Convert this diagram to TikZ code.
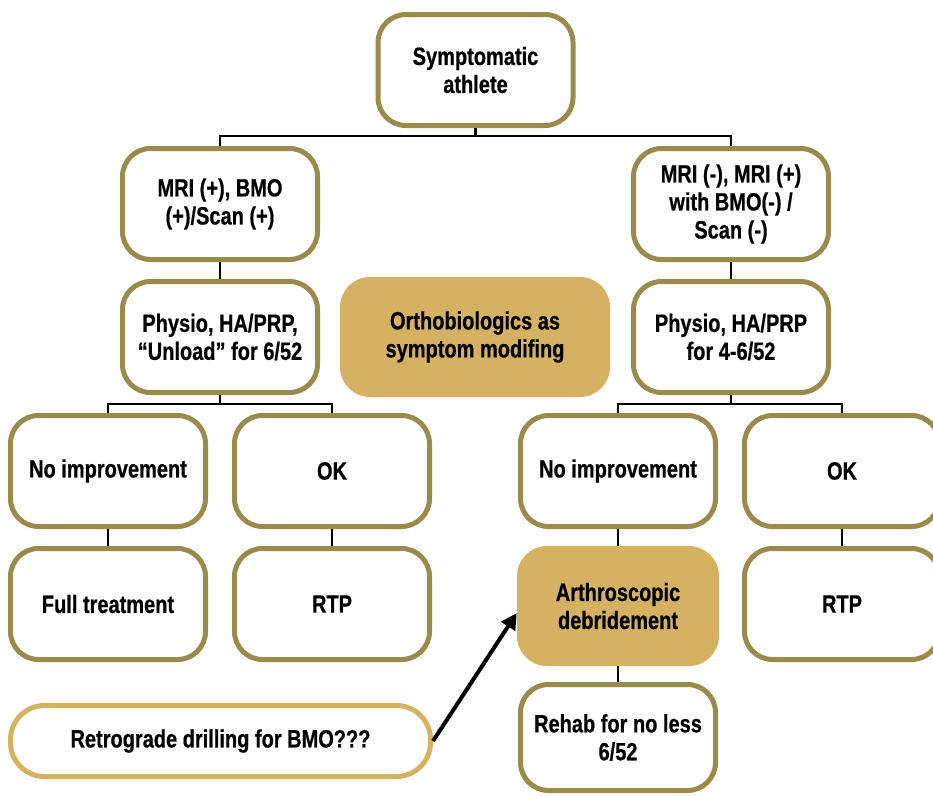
\documentclass[tikz,border=0pt]{standalone}
\usepackage{fontspec}
\setmainfont{Liberation Sans}[FakeStretch=0.8, BoldFeatures={FakeBold=0.6}]
\usetikzlibrary{arrows.meta}
\definecolor{olive}{HTML}{9A8A4B}
\definecolor{gold}{HTML}{D4B262}
\begin{document}
\begin{tikzpicture}[x=1pt,y=-1pt,
  box/.style={draw=olive, line width=5pt, fill=white, rounded corners=28pt,
    minimum width=195pt, minimum height=111pt, align=center, inner sep=2pt,
    font=\fontsize{25}{28}\selectfont\bfseries},
  goldbox/.style={fill=gold, rounded corners=30pt, align=center, inner sep=2pt,
    font=\fontsize{25}{28}\selectfont\bfseries},
  conn/.style={draw=black, line width=2.5pt}]
\useasboundingbox (0,0) rectangle (933,796);
\node[box] (top) at (475.5,70) {Symptomatic\\athlete};
\node[box] (mri1) at (220,204) {MRI (+), BMO\\(+)/Scan (+)};
\node[box] (mri2) at (731,204) {MRI (-), MRI (+)\\with BMO(-) /\\Scan (-)};
\node[box] (phys1) at (220,337) {Physio, HA/PRP,\\``Unload'' for 6/52};
\node[box] (phys2) at (731,337) {Physio, HA/PRP\\for 4-6/52};
\node[goldbox, minimum width=270pt, minimum height=120pt] (ortho) at (475,337) {Orthobiologics as\\symptom modifing};
\node[box] (no1) at (108,471) {No improvement};
\node[box] (ok1) at (332,471) {OK};
\node[box] (no2) at (618,471) {No improvement};
\node[box] (ok2) at (842,471) {OK};
\node[box] (full) at (108,604) {Full treatment};
\node[box] (rtp1) at (332,604) {RTP};
\node[goldbox, minimum width=202pt, minimum height=120pt] (art) at (618,606) {Arthroscopic\\debridement};
\node[box] (rtp2) at (842,604) {RTP};
\node[box, minimum height=106pt] (rehab) at (618,737.5) {Rehab for no less\\6/52};
\node[box, draw=gold, minimum width=420pt, minimum height=71pt, rounded corners=34pt] (retro) at (220.5,741) {Retrograde drilling for BMO???};
\coordinate (j1) at (475.5,136);
\coordinate (j2) at (220,404);
\coordinate (j3) at (731,404);
\draw[conn] (top.south) -- (j1) -| (mri1.north);
\draw[conn] (j1) -| (mri2.north);
\draw[conn] (mri1.south) -- (phys1.north);
\draw[conn] (mri2.south) -- (phys2.north);
\draw[conn] (phys1.south) -- (j2) -| (no1.north);
\draw[conn] (j2) -| (ok1.north);
\draw[conn] (phys2.south) -- (j3) -| (no2.north);
\draw[conn] (j3) -| (ok2.north);
\draw[conn] (no1.south) -- (full.north);
\draw[conn] (ok1.south) -- (rtp1.north);
\draw[conn] (no2.south) -- (art.north);
\draw[conn] (ok2.south) -- (rtp2.north);
\draw[conn] (art.south) -- (rehab.north);
\draw[line width=4pt, -{Triangle[length=16pt,width=16pt]}] (retro.east) -- ([yshift=-7pt]art.west);
\end{tikzpicture}
\end{document}
